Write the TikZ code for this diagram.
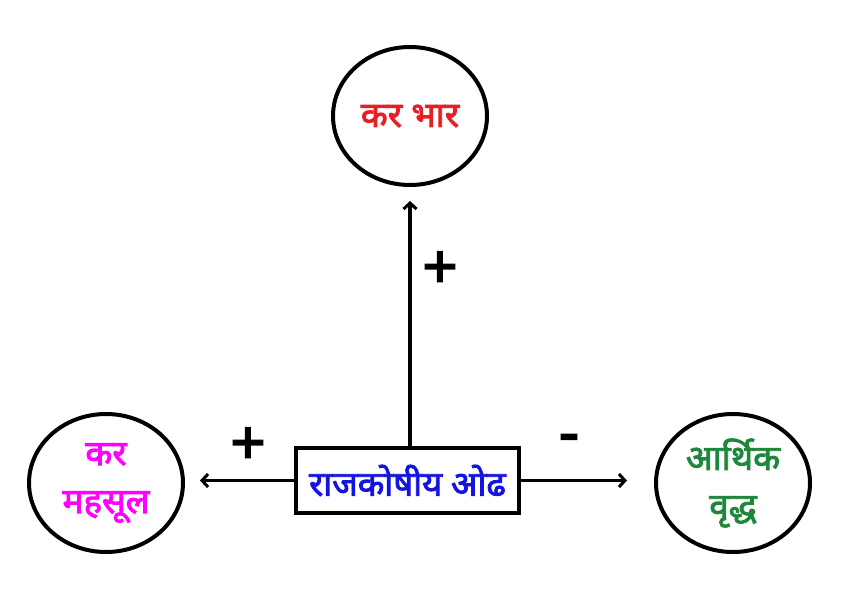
\documentclass[tikz,border=0pt]{standalone}
\usepackage{fontspec}
\newfontfamily\devfont[Script=Devanagari,FakeBold=2.5]{Noto Sans}
\usepackage{xcolor}
\usetikzlibrary{shapes.geometric,arrows.meta}
\definecolor{burdenred}{RGB}{232,30,36}
\definecolor{dutymagenta}{RGB}{255,0,255}
\definecolor{drainblue}{RGB}{20,20,225}
\definecolor{growthgreen}{RGB}{30,135,60}
\tikzset{
    round-node/.style = {draw=black, ellipse, line width=4pt, minimum width=154pt, minimum height=138pt, inner sep=0pt, align=center, font=\devfont\fontsize{35}{48}\selectfont},
    drain-box/.style = {draw=black, rectangle, line width=4pt, minimum width=223pt, minimum height=65pt, inner sep=0pt, text=drainblue, font=\devfont\fontsize{34.5}{40}\selectfont},
    sign/.style = {font=\devfont\fontsize{62}{62}\selectfont},
    link/.style = {line width=3.5pt, -{Straight Barb[length=6pt,width=13pt,line width=3pt]}},
}
\begin{document}
\begin{tikzpicture}[x=1pt,y=-1pt]
\useasboundingbox (0,0) rectangle (850,596);
\node [round-node, text=burdenred] (burden) at (410,116) {कर भार};
\node [round-node, text=dutymagenta] (duty) at (106,483) {कर\\महसूल};
\node [round-node, text=growthgreen] (growth) at (733,483) {आर्थिक\\वृद्ध};
\node [drain-box] (drain) at (407.5,480.5) {राजकोषीय ओढ};
\draw [link, shorten >=14pt] (drain.north -| burden.south) -- (burden.south);
\draw [link, shorten >=15pt] (drain.west) -- (drain.west -| duty.east);
\draw [link, shorten >=27pt] (drain.east) -- (drain.east -| growth.west);
\node [sign] (up-sign) at (440,270) {+};
\node [sign] (left-sign) at (248,446) {+};
\node [sign] (right-sign) at (569,444) {-};
\end{tikzpicture}
\end{document}
